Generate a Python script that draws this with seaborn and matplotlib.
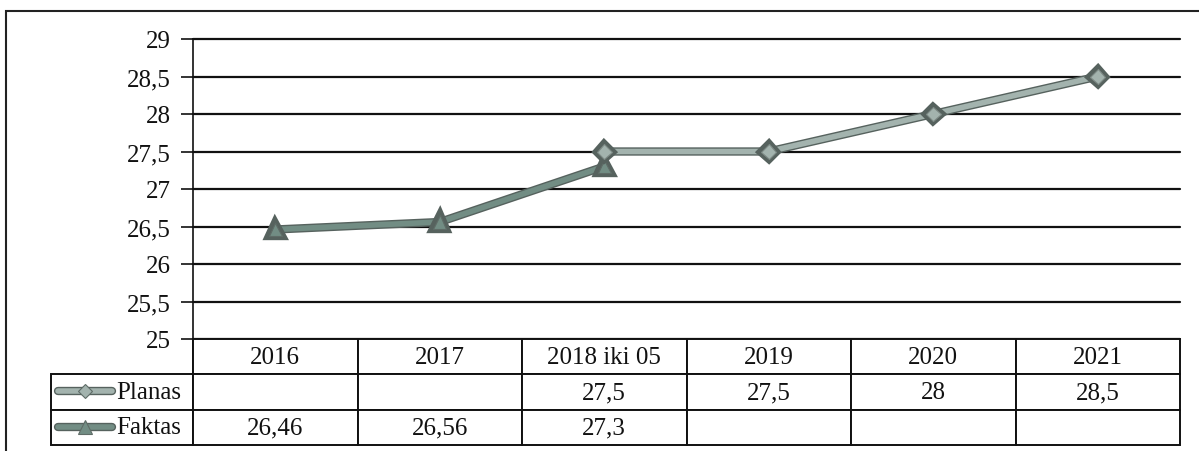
import numpy as np
import pandas as pd
import matplotlib
matplotlib.use("Agg")
import matplotlib.pyplot as plt
import matplotlib.patheffects as pe
from matplotlib.lines import Line2D
from matplotlib.patches import Rectangle
import seaborn as sns

# data
years = ['2016', '2017', '2018 iki 05', '2019', '2020', '2021']
planas = [np.nan, np.nan, 27.5, 27.5, 28, 28.5]
faktas = [26.46, 26.56, 27.3, np.nan, np.nan, np.nan]
y_ticks = [25, 25.5, 26, 26.5, 27, 27.5, 28, 28.5, 29]

planas_col = '#a3b3ae'
faktas_col = '#728d84'

sns.set_theme(style='white')
plt.rcParams['font.family'] = ['Liberation Serif', 'DejaVu Serif']

W, H = 1199, 452
fig = plt.figure(figsize=(W / 100, H / 100), dpi=100)
# plot area in pixels: x 193..1180, y 40..340
ax = fig.add_axes([193 / W, (H - 340) / H, 987 / W, 300 / H])

df = pd.DataFrame({'x': np.arange(len(years)), 'Planas': planas, 'Faktas': faktas})
outline = [pe.Stroke(linewidth=6, foreground='#56625e'), pe.Normal()]

sns.lineplot(data=df, x='x', y='Planas', ax=ax, color=planas_col, lw=4,
             marker='D', markersize=7.5, markeredgecolor='#7d8985', markeredgewidth=0.8,
             path_effects=outline, zorder=4)
sns.lineplot(data=df, x='x', y='Faktas', ax=ax, color=faktas_col, lw=4,
             marker='^', markersize=9.5, markeredgecolor='#5f6c67', markeredgewidth=0.8,
             path_effects=outline, zorder=3)

ax.set_xlim(-0.5, len(years) - 0.5)
ax.set_ylim(25, 29)
ax.set_yticks(y_ticks)
ax.set_yticklabels([str(v).replace('.0', '').replace('.', ',') for v in y_ticks], fontsize=18)
ax.set_xticks([])
ax.set_xlabel('')
ax.set_ylabel('')
ax.grid(False)
for v in y_ticks:
    ax.axhline(v, color='#111111', lw=1.6, zorder=1, clip_on=False)
for s in ['top', 'right', 'bottom']:
    ax.spines[s].set_visible(False)
ax.spines['left'].set_color('#111111')
ax.spines['left'].set_linewidth(1.2)
ax.tick_params(axis='y', left=True, length=9, width=1.2, color='#111111', pad=7, labelcolor='#111111')

# data table under the plot
def fmt(v):
    if np.isnan(v):
        return ''
    return ('%g' % v).replace('.', ',')

cells = [[''] + years,
         ['Planas'] + [fmt(v) for v in planas],
         ['Faktas'] + [fmt(v) for v in faktas]]
lab_w = 142 / 987
col_w = 1 / 6
tb = ax.table(cellText=cells, cellLoc='center', colWidths=[lab_w] + [col_w] * 6,
              bbox=[-lab_w, -106 / 300, 1 + lab_w, 106 / 300])
tb.auto_set_font_size(False)
for (r, c), cell in tb.get_celld().items():
    cell.set_edgecolor('#111111')
    cell.set_linewidth(1.4)
    cell.get_text().set_fontsize(18)
    cell.get_text().set_color('#111111')
    if r == 0 and c == 0:
        cell.visible_edges = 'R'
    if c == 0 and r > 0:
        cell.get_text().set_ha('left')
        cell._loc = 'left'
        cell.PAD = 0.46
tb.set_zorder(2)

# legend keys inside the label cells
row_mid = [(H - 392) / H, (H - 428) / H]
for ym, col, mk, ms in [(row_mid[0], planas_col, 'D', 7.5), (row_mid[1], faktas_col, '^', 9.5)]:
    fig.add_artist(Line2D([58 / W, 112 / W], [ym, ym], color=col, lw=4,
                          solid_capstyle='round', path_effects=outline, transform=fig.transFigure))
    fig.add_artist(Line2D([85 / W], [ym], color=col, marker=mk, markersize=ms,
                          markeredgecolor='#5f6c67', markeredgewidth=0.8, lw=0,
                          transform=fig.transFigure))

# outer chart frame (cut by the image edges)
fig.add_artist(Rectangle((6 / W, -0.05), 1.1, (H - 12) / H + 0.05, transform=fig.transFigure,
                         fill=False, edgecolor='#222222', lw=1.5))

fig.savefig('out.png', dpi=100)
